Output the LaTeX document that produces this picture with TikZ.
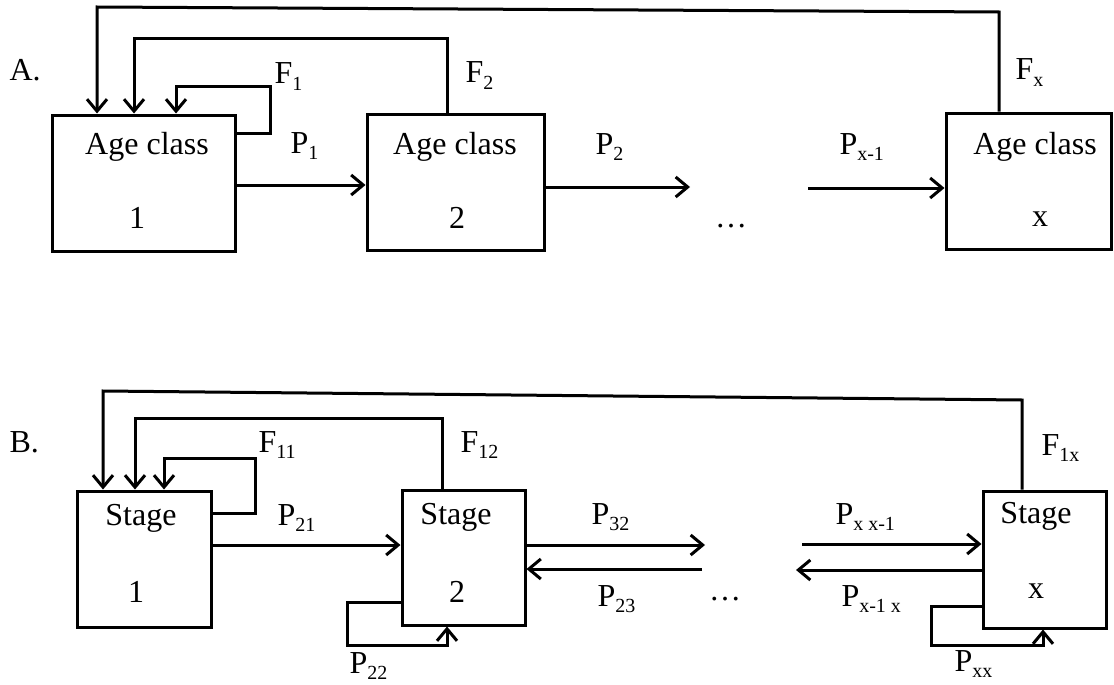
\documentclass[tikz,border=0pt]{standalone}
\usepackage{fontspec}
\setmainfont{Liberation Serif}
\usetikzlibrary{arrows.meta}
\newcommand\sbs[1]{\raisebox{-6pt}{\fontsize{20}{20}\selectfont #1}}
\begin{document}
\begin{tikzpicture}[x=1pt,y=-1pt,
  line width=3pt,
  every node/.style={font=\fontsize{32}{38}\selectfont, inner sep=0pt},
  box/.style={draw, line width=3pt},
  lab/.style={anchor=base west},
  txt/.style={anchor=base},
  arr/.style={-{Straight Barb[length=12pt,width=20pt]}}]
\useasboundingbox (0,0) rectangle (1114,685);

% ---------- Panel A ----------
\node[box, minimum width=183pt, minimum height=136pt] (a1) at (143.5,183) {};
\node[box, minimum width=177pt, minimum height=136pt] (a2) at (455.5,182) {};
\node[box, minimum width=165pt, minimum height=136pt] (ax) at (1028.5,181) {};

\node[txt] (a1t) at (147,154) {Age class};
\node[txt] (a1n) at (137,228) {1};
\node[txt] (a2t) at (455,154) {Age class};
\node[txt] (a2n) at (457,228) {2};
\node[txt] (axt) at (1035,154) {Age class};
\node[txt] (axn) at (1040,226) {x};

\node[lab] (lA) at (8,81) {A.};
\node[lab] (f1) at (273,84) {F\sbs{1}};
\node[lab] (f2) at (464,83) {F\sbs{2}};
\node[lab] (fx) at (1014,80) {F\sbs{x}};
\node[lab] (p1) at (289,153) {P\sbs{1}};
\node[lab] (p2) at (594,154) {P\sbs{2}};
\node[lab] (pxm) at (838,154) {P\sbs{x-1}};
\node[txt] (dotsA) at (731,227) {…};

\draw[arr] (999,0 |- ax.north) -- (999,12) -- (97,7) -- (97,0 |- a1.north);
\draw[arr] (447,0 |- a2.north) |- (134,39) -- (134,0 |- a1.north);
\draw[arr] (0,133 -| a1.east) -| (270,87) -| (176,0 |- a1.north);
\draw[arr] (0,185 -| a1.east) -- (0,185 -| a2.west);
\coordinate (a2end) at (690,187);
\draw[arr] (0,187 -| a2.east) -- (a2end);
\coordinate (axstart) at (808,188);
\draw[arr] (axstart) -- (0,188 -| ax.west);

% ---------- Panel B ----------
\node[box, minimum width=134pt, minimum height=136pt] (b1) at (144,559) {};
\node[box, minimum width=123pt, minimum height=135pt] (b2) at (463.5,557.5) {};
\node[box, minimum width=123pt, minimum height=137pt] (bx) at (1044.5,559.5) {};

\node[txt] (b1t) at (141,525) {Stage};
\node[txt] (b1n) at (136,602) {1};
\node[txt] (b2t) at (456,524) {Stage};
\node[txt] (b2n) at (457,602) {2};
\node[txt] (bxt) at (1036,523) {Stage};
\node[txt] (bxn) at (1036,598) {x};

\node[lab] (lB) at (8,452) {B.};
\node[lab] (f11) at (257,452) {F\sbs{11}};
\node[lab] (f12) at (459,452) {F\sbs{12}};
\node[lab] (f1x) at (1040,455) {F\sbs{1x}};
\node[lab] (p21) at (276,525) {P\sbs{21}};
\node[lab] (p32) at (590,524) {P\sbs{32}};
\node[lab] (pxxm) at (834,524) {P\sbs{x x-1}};
\node[lab] (p23) at (596,606) {P\sbs{23}};
\node[lab] (pxmx) at (840,606) {P\sbs{x-1 x}};
\node[lab] (p22) at (348,673) {P\sbs{22}};
\node[lab] (pxx) at (953,671) {P\sbs{xx}};
\node[txt] (dotsB) at (725,600) {…};

\draw[arr] (1022,0 |- bx.north) -- (1022,400) -- (103,391) -- (103,0 |- b1.north);
\draw[arr] (442,0 |- b2.north) |- (135,418) -- (135,0 |- b1.north);
\draw[arr] (0,513 -| b1.east) -| (255,458) -| (164,0 |- b1.north);
\draw[arr] (0,545 -| b1.east) -- (0,545 -| b2.west);
\coordinate (b2r) at (705,545);
\draw[arr] (0,545 -| b2.east) -- (b2r);
\coordinate (b2l) at (702,569);
\draw[arr] (b2l) -- (0,569 -| b2.east);
\coordinate (bxs) at (802,544);
\draw[arr] (bxs) -- (0,544 -| bx.west);
\coordinate (bxe) at (796,570);
\draw[arr] (0,570 -| bx.west) -- (bxe);
\draw[arr] (0,602 -| b2.west) -| (347,645) -| (447,0 |- b2.south);
\draw[arr] (0,606 -| bx.west) -| (931,645) -| (1043,0 |- bx.south);
\end{tikzpicture}
\end{document}
